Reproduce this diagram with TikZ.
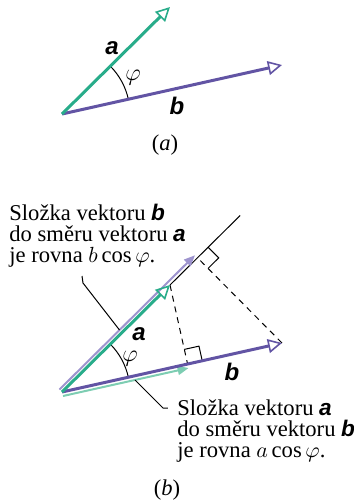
\documentclass[tikz,border=0pt]{standalone}
\usepackage{fontspec}
\setmainfont{Liberation Serif}
\newfontfamily\vekfont{Liberation Sans}
\usetikzlibrary{arrows.meta,calc}

\definecolor{vecA}{RGB}{40,172,138}
\definecolor{vecB}{RGB}{98,84,164}
\definecolor{projA}{RGB}{125,205,178}
\definecolor{projB}{RGB}{158,148,206}

\newcommand{\vek}[1]{{\vekfont\bfseries\itshape #1}}

\tikzset{
  vekA/.style={vecA, line width=1.5pt, -{Triangle[open, length=7pt, width=7pt, line width=0.8pt]}},
  vekB/.style={vecB, line width=1.5pt, -{Triangle[open, length=7pt, width=7pt, line width=0.8pt]}},
  projarrow/.style={line width=1pt, -{Triangle[length=5.5pt, width=4.5pt]}},
  helper/.style={black, line width=0.5pt},
  dropline/.style={black, line width=0.5pt, dash pattern=on 3pt off 2.5pt},
  caption/.style={align=left, inner sep=0pt},
  veklabel/.style={inner sep=0.5pt, font=\fontsize{12pt}{12pt}\selectfont}
}

\begin{document}
\begin{tikzpicture}[x=0.5pt, y=-0.5pt, font=\fontsize{11.3pt}{10.5pt}\selectfont]
  \useasboundingbox (0,0) rectangle (354,500);

  % === (a): the two vectors ===
  \begin{scope}
    \coordinate (O1) at (62,114);
    \coordinate (A1) at ($(O1)+(108,-107)$);
    \coordinate (B1) at ($(O1)+(220,-49)$);

    \draw[helper] ($(O1)+(-44.7:68)$) arc[start angle=-44.7, end angle=-12.56, radius=68];
    \draw[vekB] (O1) -- (B1);
    \draw[vekA] (O1) -- (A1);

    \node[veklabel] (la1) at (112,48) {\vek{a}};
    \node[veklabel] (lb1) at (177,106) {\vek{b}};
    \node[veklabel] (lphi1) at (133,78) {$\varphi$};
    \node (capa) at (165,145) {(\textit{a})};
  \end{scope}

  % === (b): the two projections ===
  \begin{scope}
    \coordinate (O2) at (62,392);
    \coordinate (A2) at ($(O2)+(108,-107)$);
    \coordinate (B2) at ($(O2)+(220,-49)$);
    \coordinate (Aext) at ($(O2)!1.65!(A2)$);
    \coordinate (Fb) at ($(O2)!(B2)!(A2)$); % pata kolmice z B na a
    \coordinate (Fa) at ($(O2)!(A2)!(B2)$); % pata kolmice z A na b

    % kolmice a pravé úhly
    \draw[helper] (A2) -- (Aext);
    \draw[dropline] (B2) -- (Fb);
    \draw[dropline] (A2) -- (Fa);
    \coordinate (rb1) at ($(Fb)!7.5pt!(Aext)$);
    \coordinate (rb2) at ($(Fb)!7.5pt!(B2)$);
    \draw[helper] (rb1) -- ($(rb1)+(rb2)-(Fb)$) -- (rb2);
    \coordinate (ra1) at ($(Fa)!7.5pt!(A2)$);
    \coordinate (ra2) at ($(Fa)!7.5pt!(B2)$);
    \draw[helper] (ra1) -- ($(ra1)+(ra2)-(Fa)$) -- (ra2);

    \draw[helper] ($(O2)+(-44.7:68)$) arc[start angle=-44.7, end angle=-12.56, radius=68];

    % průměty
    \draw[projarrow, projB] ($(O2)+(-2.5,-2.5)$) -- ($(Fb)+(-2.5,-2.5)$);
    \draw[projarrow, projA] ($(O2)+(1,4)$) -- ($(Fa)+(1,4)$);
    \draw[vekB] (O2) -- (B2);
    \draw[vekA] (O2) -- (A2);

    \node[veklabel] (la2) at (139,334) {\vek{a}};
    \node[veklabel] (lb2) at (232,372) {\vek{b}};
    \node[veklabel] (lphi2) at (130,359) {$\varphi$};

    % popisky
    \node[caption, anchor=north west] (txtb) at (9,203.5)
      {Složka vektoru \vek{b}\\do směru vektoru \vek{a}\\je rovna $b\cos\varphi$.};
    \node[caption, anchor=north west] (txta) at (177,399.5)
      {Složka vektoru \vek{a}\\do směru vektoru \vek{b}\\je rovna $a\cos\varphi$.};
    \coordinate (ldb0) at (82,276);
    \coordinate (ldb1) at (83,283);
    \coordinate (ldb2) at (119.5,330);
    \draw[helper] (ldb0) -- (ldb1) -- (ldb2);
    \coordinate (lda0) at (135,380);
    \coordinate (lda1) at (163,408);
    \coordinate (lda2) at (168,408);
    \draw[helper] (lda0) -- (lda1) -- (lda2);

    \node (capb) at (167,490) {(\textit{b})};
  \end{scope}
\end{tikzpicture}
\end{document}
